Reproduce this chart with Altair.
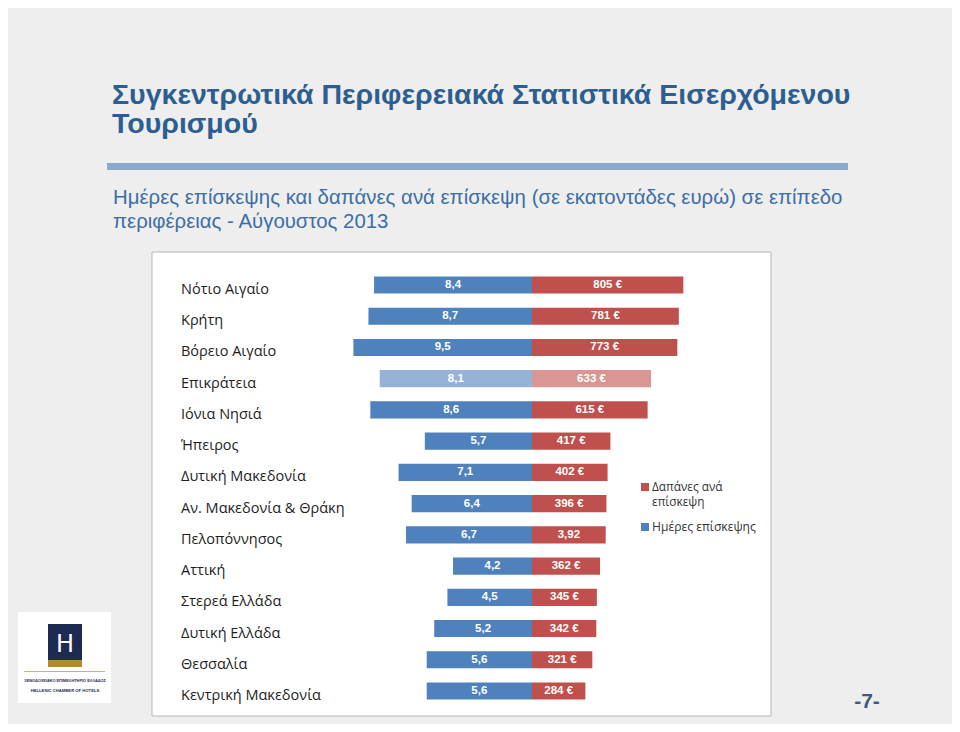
import altair as alt
import pandas as pd

# ---- data ----
regions = ["Νότιο Αιγαίο", "Κρήτη", "Βόρειο Αιγαίο", "Επικράτεια", "Ιόνια Νησιά",
           "Ήπειρος", "Δυτική Μακεδονία", "Αν. Μακεδονία & Θράκη", "Πελοπόννησος",
           "Αττική", "Στερεά Ελλάδα", "Δυτική Ελλάδα", "Θεσσαλία", "Κεντρική Μακεδονία"]
days = [8.4, 8.7, 9.5, 8.1, 8.6, 5.7, 7.1, 6.4, 6.7, 4.2, 4.5, 5.2, 5.6, 5.6]
spend = [805, 781, 773, 633, 615, 417, 402, 396, 392, 362, 345, 342, 321, 284]
spend_labels = ["805 €", "781 €", "773 €", "633 €", "615 €", "417 €", "402 €", "396 €",
                "3,92", "362 €", "345 €", "342 €", "321 €", "284 €"]
highlight = "Επικράτεια"

rows = []
for r, d, s, sl in zip(regions, days, spend, spend_labels):
    hl = "_hl" if r == highlight else ""
    rows.append({"region": r, "start": -d, "end": 0.0,
                 "label": f"{d:.1f}".replace(".", ","), "key": "days" + hl})
    rows.append({"region": r, "start": 0.0, "end": s / 100.0,
                 "label": sl, "key": "spend" + hl})
df = pd.DataFrame(rows)
regions_df = pd.DataFrame({"region": regions})

# ---- helpers ----
OFF = 8  # page margin
base = alt.Chart(pd.DataFrame({"d": [0]}))

def P(v):
    return v - OFF

def txt(text, x, y, size, color, weight="normal", font="Liberation Sans", align="left"):
    return base.mark_text(text=text, fontSize=size, color=color, fontWeight=weight,
                          font=font, align=align, baseline="alphabetic").encode(
        x=alt.value(P(x)), y=alt.value(P(y)))

def box(x1, y1, x2, y2, fill, stroke=None, sw=0):
    kw = dict(fill=fill)
    if stroke:
        kw.update(stroke=stroke, strokeWidth=sw)
    return base.mark_rect(**kw).encode(
        x=alt.value(P(x1)), x2=alt.value(P(x2)), y=alt.value(P(y1)), y2=alt.value(P(y2)))

TITLE_C = "#2d5e92"
SUB_C = "#3b6ea8"

title1 = txt("Συγκεντρωτικά Περιφερειακά Στατιστικά Εισερχόμενου", 112, 104, 28.5, TITLE_C, "bold")
title2 = txt("Τουρισμού", 112, 133, 28.5, TITLE_C, "bold")
rule = box(107, 163, 848, 170, "#8eaacb")
sub1 = txt("Ημέρες επίσκεψης και δαπάνες ανά επίσκεψη (σε εκατοντάδες ευρώ) σε επίπεδο",
           113, 204, 20.4, SUB_C)
sub2 = txt("περιφέρειας - Αύγουστος 2013", 113, 228, 20.4, SUB_C)

panel = box(152, 252, 771, 716, "#ffffff", "#b5b5b5", 1)

xs = alt.Scale(domain=[-10, 10], range=[P(532) - 188, P(532) + 188])
ys = alt.Scale(domain=regions, range=[P(285) - 15.6, P(691) + 15.6],
               paddingInner=0.45, paddingOuter=0.225)

colors = alt.Scale(domain=["days", "days_hl", "spend", "spend_hl"],
                   range=["#4f81bd", "#95b3d7", "#c0504d", "#d99694"])

bars = alt.Chart(df).mark_bar().encode(
    x=alt.X("start:Q", scale=xs, axis=None),
    x2="end:Q",
    y=alt.Y("region:N", scale=ys, axis=None, sort=regions),
    color=alt.Color("key:N", scale=colors, legend=None),
)

bar_labels = alt.Chart(df).transform_calculate(
    mid="(datum.start + datum.end) / 2"
).mark_text(font="Liberation Sans", fontWeight="bold", fontSize=11.5, color="white",
            baseline="middle").encode(
    x=alt.X("mid:Q", scale=xs, axis=None),
    y=alt.Y("region:N", scale=ys, axis=None, sort=regions),
    text="label:N",
)

region_labels = alt.Chart(regions_df).mark_text(
    font="Open Sans", fontSize=14.5, color="#1e1e1e", align="left", baseline="middle",
    dy=5).encode(
    x=alt.value(P(181)),
    y=alt.Y("region:N", scale=ys, axis=None, sort=regions),
    text="region:N",
)

# legend
LEG_C = "#333333"
leg_red = box(641, 483, 649, 491, "#c0504d")
leg_red_t1 = txt("Δαπάνες ανά", 652, 491, 11.8, LEG_C, font="Open Sans")
leg_red_t2 = txt("επίσκεψη", 652, 506, 11.8, LEG_C, font="Open Sans")
leg_blue = box(641, 523, 649, 531, "#4f81bd")
leg_blue_t = txt("Ημέρες επίσκεψης", 652, 531, 12.1, LEG_C, font="Open Sans")

# logo
logo_bg = box(18, 612, 111, 703, "#ffffff")
logo_sq = box(48, 624, 82, 660, "#1f2a52")
logo_gold = box(48, 660, 82, 667, "#b08d2a")
logo_h = txt("H", 65, 652, 24, "#ffffff", font="DejaVu Sans", align="center")
logo_line = box(24, 671, 105, 672, "#c9b46a")
logo_t1 = txt("ΞΕΝΟΔΟΧΕΙΑΚΟ ΕΠΙΜΕΛΗΤΗΡΙΟ ΕΛΛΑΔΟΣ", 65, 682, 3.9, "#1f2a52", "bold", align="center")
logo_t2 = txt("HELLENIC CHAMBER OF HOTELS", 65, 692, 4.2, "#1f2a52", "bold", align="center")

page_no = txt("-7-", 867, 708, 21, "#3a5a80", "bold", align="center")

chart = alt.layer(
    title1, title2, rule, sub1, sub2, panel,
    bars, bar_labels, region_labels,
    leg_red, leg_red_t1, leg_red_t2, leg_blue, leg_blue_t,
    logo_bg, logo_sq, logo_gold, logo_h, logo_line, logo_t1, logo_t2,
    page_no,
).properties(
    width=944, height=716,
    autosize=alt.AutoSizeParams(type="none"),
    padding=0,
    background="#eeeeee",
).configure_view(stroke=None)

chart.save("out.html", embed_options={"renderer": "svg", "actions": False})
